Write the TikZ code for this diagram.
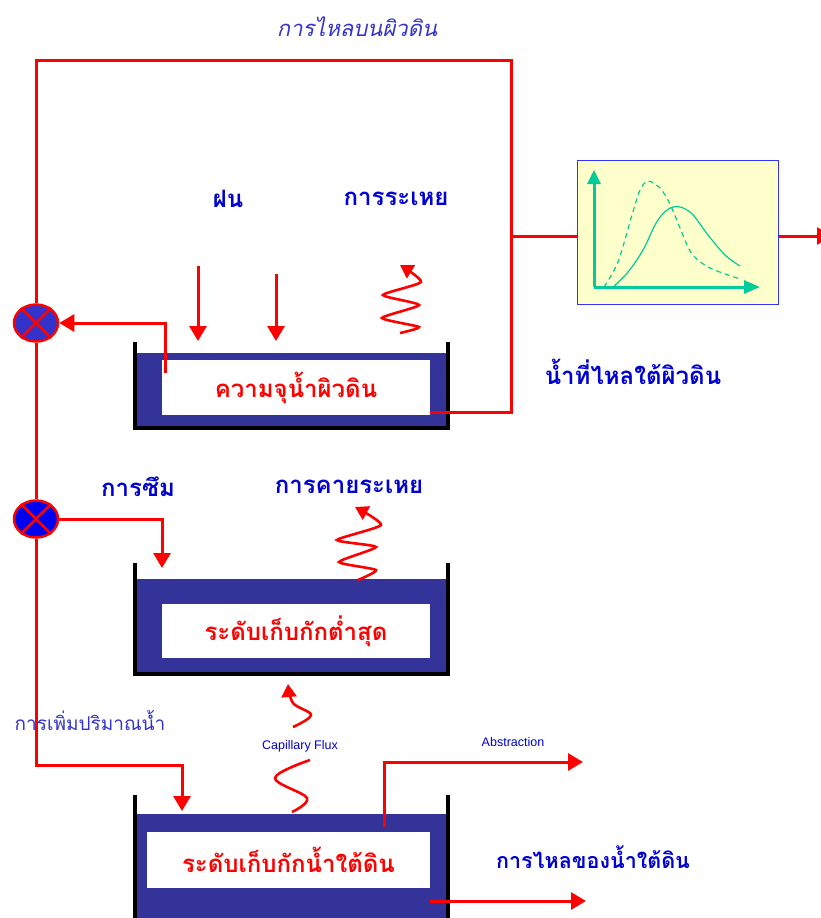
\documentclass[tikz,border=0pt]{standalone}
\usepackage{fontspec}
\newfontfamily\thai[Script=Thai]{Loma}
\setsansfont{Liberation Sans}
\usetikzlibrary{arrows.meta,shapes.geometric}
\definecolor{tankblue}{RGB}{51,51,153}
\definecolor{lblblue}{RGB}{0,0,210}
\definecolor{ttlblue}{RGB}{51,51,204}
\definecolor{jblueA}{RGB}{51,51,204}
\definecolor{jblueB}{RGB}{0,0,240}
\definecolor{rred}{RGB}{255,0,0}
\definecolor{gteal}{RGB}{0,204,153}
\definecolor{graphbg}{RGB}{255,255,204}
\definecolor{gborder}{RGB}{51,51,255}
\begin{document}
\begin{tikzpicture}[x=1pt,y=-1pt,
  redline/.style={draw=rred, line width=3pt},
  flow/.style={redline, -{Triangle[length=15pt,width=17pt]}},
  squig/.style={redline, line width=2.6pt, -{Triangle[length=13pt,width=15pt]}},
  wall/.style={draw=black, line width=4pt},
  innerbox/.style={fill=white, inner sep=0pt, font=\thai\bfseries\fontsize{24}{26}\selectfont, text=rred},
  lbl/.style={font=\thai\bfseries\fontsize{24}{26}\selectfont, text=lblblue, inner sep=0pt},
  junction/.style={ellipse, draw=rred, line width=2.5pt, minimum width=44pt, minimum height=37pt, inner sep=0pt},
  smalllbl/.style={font=\sffamily\fontsize{12.5}{14}\selectfont, text=lblblue, inner sep=0pt}
]
\useasboundingbox (0,0) rectangle (821,918);

% title
\node[font=\thai\itshape\fontsize{22}{25}\selectfont, text=ttlblue, inner sep=0pt] (title) at (357,27) {การไหลบนผิวดิน};

% junctions
\node[junction, fill=jblueA] (j1) at (36,323) {};
\node[junction, fill=jblueB] (j2) at (36,519) {};
\foreach \j in {j1,j2}{
  \draw[rred, line width=2.5pt] (\j.45) -- (\j.225) (\j.135) -- (\j.315);
}

% tank 1
\fill[tankblue] (135,353) rectangle (448,428);
\draw[wall] (135,342) -- (135,428) -- (448,428) -- (448,342);
\node[innerbox, minimum width=268pt, minimum height=55pt] (t1) at (296,387.5) {ความจุน้ำผิวดิน};

% tank 2
\fill[tankblue] (135,579) rectangle (448,674);
\draw[wall] (135,563) -- (135,674) -- (448,674) -- (448,563);
\node[innerbox, minimum width=268pt, minimum height=54pt] (t2) at (296,631) {ระดับเก็บกักต่ำสุด};

% tank 3
\fill[tankblue] (135,814) rectangle (448,925);
\draw[wall] (135,795) -- (135,925);
\draw[wall] (448,795) -- (448,925);
\node[innerbox, minimum width=283pt, minimum height=56pt] (t3) at (288.5,860) {ระดับเก็บกักน้ำใต้ดิน};

% graph
\node[fill=graphbg, draw=gborder, line width=1pt, minimum width=201pt, minimum height=144pt, inner sep=0pt] (graph) at (677.5,232) {};
\draw[gteal, line width=3pt, -{Triangle[length=14pt,width=13pt]}] (594,287) -- (594,170);
\draw[gteal, line width=3pt, -{Triangle[length=16pt,width=13pt]}] (594,287) -- (760,287);
\draw[gteal, line width=1.2pt] plot[smooth, tension=0.6] coordinates {(613,287) (628,272) (643,250) (658,220) (673,207) (690,212) (708,235) (725,255) (740,266)};
\draw[gteal, line width=1.2pt, dash pattern=on 5pt off 4pt] plot[smooth, tension=0.5] coordinates {(604,287) (618,262) (632,215) (640,190) (648,181) (660,188) (670,204) (680,228) (692,254) (710,268) (740,279)};

% coordinates
\coordinate (ftl) at (36,60);
\coordinate (ftr) at (511,60);
\coordinate (rb) at (511,412);
\coordinate (rg) at (511,236);
\coordinate (ofl) at (165,373);
\coordinate (rechc) at (36,765);

% surface runoff frame
\draw[redline] (j1.north) -- (ftl) -- (ftr) -- (rb) -- (t1.east |- rb);
\draw[redline] (rg) -- (graph.west |- rg);
\draw[flow] (graph.east |- rg) -- (832,236);
% overland flow into j1
\draw[flow] (ofl) -- (ofl |- j1) -- (j1.east);
% j1 to j2
\draw[redline] (j1.south) -- (j2.north);
% infiltration
\draw[flow] (j2.east) -- (162,519) -- (162,568);
% recharge
\draw[flow] (j2.south) -- (rechc) -- (182,765) -- (182,811);
% rain
\draw[flow] (198,266) -- (198,341);
\draw[flow] (276,274) -- (276,341);
% abstraction
\draw[flow] (384,827) -- (384,762) -- (583,762);
% groundwater flow
\draw[flow] (t3.east |- 0,901) -- (586,901);

% evaporation squiggles
\draw[squig] plot[smooth, tension=0.35] coordinates {(400,333) (419,327) (382,318) (419,305) (383,295) (421,282) (400,265)};
\draw[squig] plot[smooth, tension=0.35] coordinates {(358,580) (376,570) (339,562) (376,547) (337,540) (381,525) (355,507)};
% capillary flux
\draw[squig] plot[smooth, tension=0.6] coordinates {(293,727) (311,715) (293,703) (288,684)};
\draw[redline, line width=2.6pt] plot[smooth, tension=0.6] coordinates {(310,760) (275,778) (307,798) (292,812)};

% labels
\node[lbl] (rain) at (228,199) {ฝน};
\node[lbl] (evap) at (396,199) {การระเหย};
\node[lbl] (sub) at (633,372) {น้ำที่ไหลใต้ผิวดิน};
\node[lbl] (inf) at (138,487) {การซึม};
\node[lbl] (et) at (349,487) {การคายระเหย};
\node[lbl, font=\thai\bfseries\fontsize{21.5}{24}\selectfont] (gwf) at (593,857) {การไหลของน้ำใต้ดิน};
\node[font=\thai\fontsize{19}{22}\selectfont, text=ttlblue, inner sep=0pt] (rech) at (90,720) {การเพิ่มปริมาณน้ำ};
\node[smalllbl] (cap) at (300,746) {Capillary Flux};
\node[smalllbl] (abs) at (513,742) {Abstraction};
\end{tikzpicture}
\end{document}
